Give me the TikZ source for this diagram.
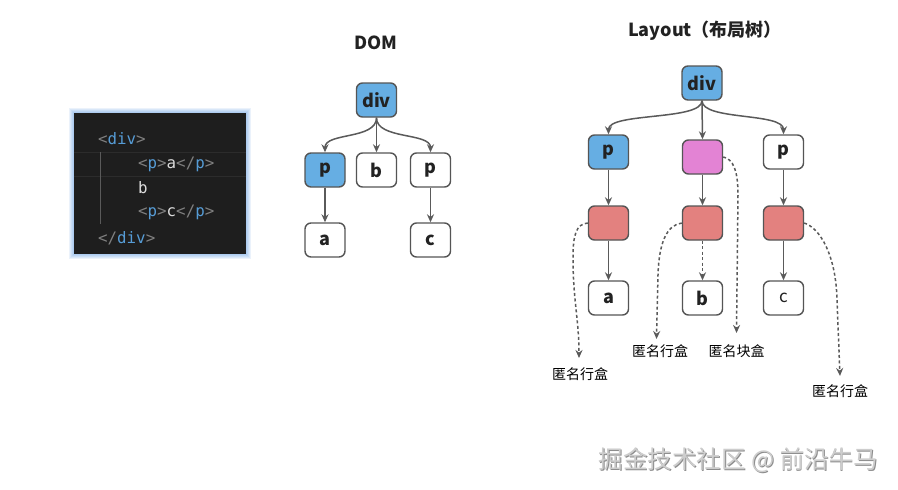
\documentclass[tikz,border=0pt]{standalone}
\usepackage{fontspec}
\setmainfont{Noto Sans CJK SC}
\newfontfamily\codefont{DejaVu Sans Mono}
\usetikzlibrary{arrows.meta}
\definecolor{bluef}{HTML}{66AEE3}
\definecolor{pinkf}{HTML}{E383D4}
\definecolor{redf}{HTML}{E3817F}
\definecolor{edgec}{HTML}{555555}
\definecolor{linec}{HTML}{5A5A5A}
\definecolor{txtc}{HTML}{222222}
\definecolor{codebg}{HTML}{1E1E1E}
\definecolor{codeline}{HTML}{2C2C2C}
\definecolor{cbrk}{HTML}{808080}
\definecolor{ctag}{HTML}{569CD6}
\definecolor{ctxt}{HTML}{DCDCDC}
\definecolor{glowc}{HTML}{4A90E2}
\definecolor{wmark}{HTML}{CDCDCD}
\definecolor{wshadow}{HTML}{8C8C8C}
\newcommand\cbk[1]{\textcolor{cbrk}{#1}}
\newcommand\ctg[1]{\textcolor{ctag}{#1}}
\newcommand\ctx[1]{\textcolor{ctxt}{#1}}
\tikzset{
  box/.style={draw=edgec, line width=1.4pt, rounded corners=6pt, minimum width=40pt,
    minimum height=34pt, inner sep=0pt, text=txtc, font=\bfseries\fontsize{18}{18}\selectfont},
  arr/.style={draw=linec, line width=1.5pt, -{Stealth[length=8pt,width=7pt]}},
  darr/.style={arr, dash pattern=on 3pt off 2.5pt},
  lbl/.style={font=\fontsize{14}{14}\selectfont, text=black, inner sep=0pt},
  ttl/.style={font=\bfseries\fontsize{18}{18}\selectfont, text=txtc, inner sep=0pt},
  codeln/.style={anchor=west, inner sep=0pt, font=\codefont\fontsize{15.8}{16}\selectfont}
}
\begin{document}
\begin{tikzpicture}[x=1pt,y=-1pt]
\useasboundingbox (0,0) rectangle (898,490);
\fill[white] (0,0) rectangle (898,490);
% code panel
\foreach \g in {5,4,3,2,1}
  \fill[glowc, opacity=0.11] (74-\g,113-\g) rectangle (246+\g,254+\g);
\fill[codebg] (74,113) rectangle (246,254);
\draw[codeline] (74,152) -- (246,152) (74,176) -- (246,176);
\draw[cbrk!70!black, line width=1pt] (100,152) -- (100,224);
\node[codeln] (l1) at (98,139) {\cbk{<}\ctg{div}\cbk{>}};
\node[codeln] (l2) at (138,164) {\cbk{<}\ctg{p}\cbk{>}\ctx{a}\cbk{</}\ctg{p}\cbk{>}};
\node[codeln] (l3) at (138,188) {\ctx{b}};
\node[codeln] (l4) at (138,212) {\cbk{<}\ctg{p}\cbk{>}\ctx{c}\cbk{</}\ctg{p}\cbk{>}};
\node[codeln] (l5) at (98,238) {\cbk{</}\ctg{div}\cbk{>}};
% DOM tree
\node[ttl] (domt) at (376,43) {DOM};
\node[box, fill=bluef] (ddiv) at (376.5,100) {div};
\node[box, fill=bluef] (dp1) at (325,170) {p};
\node[box, fill=white] (db) at (376.5,170) {b};
\node[box, fill=white] (dp2) at (430.5,170) {p};
\node[box, fill=white] (da) at (325,240) {a};
\node[box, fill=white] (dc) at (430.5,240) {c};
\draw[arr] (ddiv.south) .. controls +(0,22) and +(0,-20) .. (dp1.north);
\draw[arr] (ddiv.south) -- (db.north);
\draw[arr] (ddiv.south) .. controls +(0,22) and +(0,-20) .. (dp2.north);
\draw[arr] (dp1.south) -- (da.north);
\draw[arr] (dp2.south) -- (dc.north);
% Layout tree
\node[ttl] (layt) at (705,31) {Layout（布局树）};
\node[box, fill=bluef] (ldiv) at (702,83) {div};
\node[box, fill=bluef] (lp1) at (608.5,152) {p};
\node[box, fill=pinkf] (lpk) at (702.5,157) {};
\node[box, fill=white] (lp3) at (783.5,152) {p};
\node[box, fill=redf] (lr1) at (608.5,223) {};
\node[box, fill=redf] (lr2) at (702.5,223) {};
\node[box, fill=redf] (lr3) at (783.5,223) {};
\node[box, fill=white] (la) at (608.5,298) {a};
\node[box, fill=white] (lb) at (702.5,298) {b};
\node[box, fill=white, font=\fontsize{17}{17}\selectfont] (lc) at (783.5,298) {c};
\draw[arr] (ldiv.south) .. controls +(0,20) and +(0,-22) .. (lp1.north);
\draw[arr] (ldiv.south) -- (lpk.north);
\draw[arr] (ldiv.south) .. controls +(0,20) and +(0,-22) .. (lp3.north);
\draw[arr] (lp1.south) -- (lr1.north);
\draw[arr] (lpk.south) -- (lr2.north);
\draw[arr] (lp3.south) -- (lr3.north);
\draw[arr] (lr1.south) -- (la.north);
\draw[darr] (lr2.south) -- (lb.north);
\draw[arr] (lr3.south) -- (lc.north);
% anonymous boxes
\coordinate (t1) at (579,358);
\coordinate (t2) at (656.5,339);
\coordinate (t3) at (736.5,333);
\coordinate (t4) at (840,376);
\draw[darr] (lr1.west) .. controls (576,224) and (573,235) .. (573,258) .. controls (573,300) and (579,320) .. (t1);
\draw[darr] (lr2.west) .. controls (667,225) and (659,242) .. (658,275) -- (t2);
\draw[darr] (lpk.east) .. controls (733,159) and (738,170) .. (738,195) -- (t3);
\draw[darr] (lr3.east) .. controls (820,228) and (836,255) .. (837,300) -- (t4);
\node[lbl] (n1) at (580,374) {匿名行盒};
\node[lbl] (n2) at (660,351) {匿名行盒};
\node[lbl] (n3) at (736.5,351) {匿名块盒};
\node[lbl] (n4) at (840,391) {匿名行盒};
% watermark
\node[inner sep=0pt, text=wshadow, font=\fontsize{24.5}{25}\selectfont] (wms) at (739.3,460.8) {掘金技术社区 @ 前沿牛马};
\node[inner sep=0pt, text=wmark, font=\fontsize{24.5}{25}\selectfont] (wm) at (738.5,460) {掘金技术社区 @ 前沿牛马};
\end{tikzpicture}
\end{document}
